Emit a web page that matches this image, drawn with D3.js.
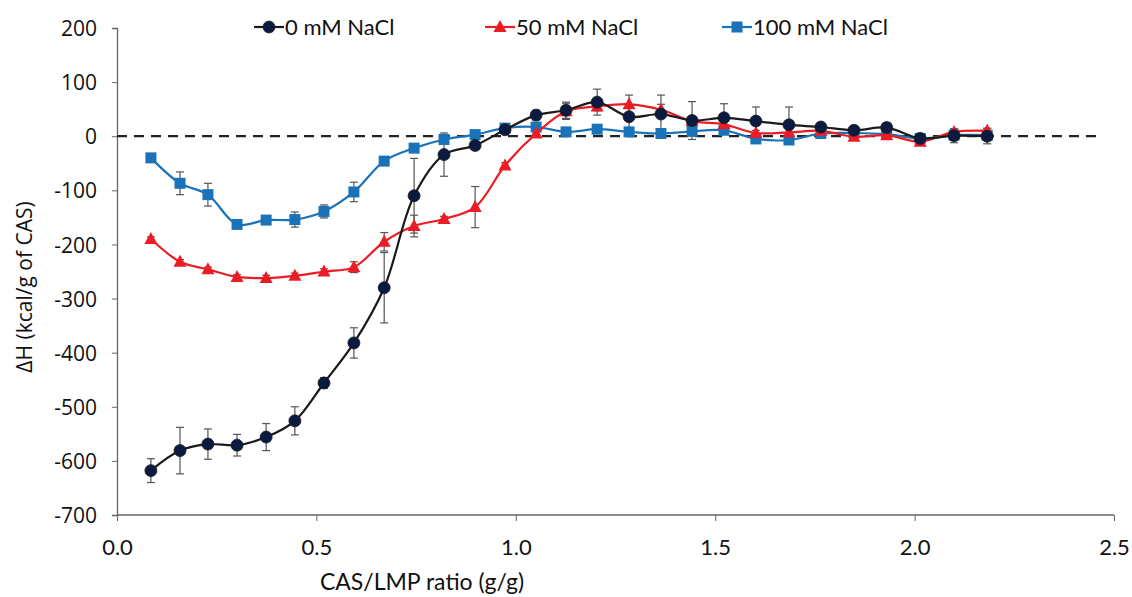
<!DOCTYPE html>
<html><head><meta charset="utf-8">
<script src="https://cdn.jsdelivr.net/npm/d3@7"></script>
<style>
body{margin:0;background:#fff;}
svg{display:block;}
.ylab{font-family:"Open Sans",sans-serif;fill:#111;}
.xlab,.title,.leg{font-family:Lato,"Open Sans",sans-serif;fill:#111;}
</style></head>
<body>
<svg id="c" width="1132" height="597"></svg>
<script>
const xVals = [0.085,0.158,0.228,0.301,0.374,0.446,0.519,0.594,0.670,0.745,0.820,0.898,0.973,1.051,1.126,1.204,1.284,1.364,1.442,1.522,1.602,1.685,1.765,1.848,1.930,2.014,2.099,2.182];
const nacl0   = [-618,-581,-569,-571,-556,-526,-456,-382,-280,-110,-34,-17,12,39,48,63,36,41,29,34,28,21,17,11,16,-4,1,0];
const err0    = [22,43,28,20,25,26,10,28,65,69,40,5,5,9,15,24,22,35,35,26,26,33,5,4,9,4,13,14];
const nacl50  = [-190,-232,-246,-260,-262,-258,-250,-242,-195,-166,-153,-131,-54,5,46,55,59,49,28,22,6,7,10,-1,2,-10,8,10];
const err50   = [4,4,4,4,5,5,5,10,17,20,5,38,5,5,15,8,17,10,5,5,5,5,4,4,4,4,5,5];
const nacl100 = [-40,-87,-108,-163,-155,-154,-139,-103,-46,-22,-6,3,15,17,8,13,8,5,9,11,-5,-7,5,6,4,-4,2,2];
const err100  = [3,21,21,3,4,14,12,18,6,4,8,4,4,4,4,4,4,4,4,5,4,4,4,4,4,4,5,5];
const seriesNames = ["0 mM NaCl","50 mM NaCl","100 mM NaCl"];
const xTicks = [0,0.5,1,1.5,2,2.5];
const yTicks = [200,100,0,-100,-200,-300,-400,-500,-600,-700];

const svg = d3.select("#c");
const x = d3.scaleLinear().domain([0,2.5]).range([117,1114]);
const y = d3.scaleLinear().domain([-700,200]).range([515,28]);

// axes
const gy = svg.append("g").attr("transform","translate(117,0)")
  .call(d3.axisLeft(y).tickValues(yTicks).tickSize(5).tickFormat(d => String(d)));
gy.select(".domain").attr("stroke","#666").attr("stroke-width",1.3);
gy.selectAll(".tick line").attr("stroke","#666");
gy.selectAll(".tick text").attr("class","ylab").attr("x",-20).attr("dy","0.36em").style("font-size","21px");

const gx = svg.append("g").attr("transform","translate(0,515)")
  .call(d3.axisBottom(x).tickValues(xTicks).tickSize(6).tickFormat(d3.format(".1f")));
gx.select(".domain").attr("stroke","#666").attr("stroke-width",1.3).attr("d","M117,0H1114");
gx.selectAll(".tick line").attr("stroke","#666");
gx.selectAll(".tick text").attr("class","xlab").attr("y",24).attr("dy","0.71em").style("font-size","22px");

// zero dashed line
svg.append("line").attr("x1",x(0)).attr("x2",x(2.46)).attr("y1",y(0)).attr("y2",y(0))
  .attr("stroke","#222").attr("stroke-width",2.2).attr("stroke-dasharray","10,7");

// titles
svg.append("text").attr("class","title").attr("x",422).attr("y",590).attr("text-anchor","middle")
  .style("font-size","23px").text("CAS/LMP ratio (g/g)");
svg.append("text").attr("class","ylab").attr("transform","translate(32,287) rotate(-90)")
  .attr("text-anchor","middle").style("font-size","21px").text("ΔH (kcal/g of CAS)");

const series = [
  {vals:nacl0, err:err0, line:"#1a1a1a", fill:"#0a1a40", shape:"circle"},
  {vals:nacl50, err:err50, line:"#ec1c24", fill:"#ec1c24", shape:"triangle"},
  {vals:nacl100, err:err100, line:"#1a73b9", fill:"#1a73b9", shape:"square"}
];

function marker(g, shape, cx, cy, fill){
  if(shape==="circle"){
    g.append("circle").attr("cx",cx).attr("cy",cy).attr("r",6).attr("fill",fill).attr("stroke","#1a1a1a").attr("stroke-width",0.8);
  } else if(shape==="triangle"){
    g.append("path").attr("d",`M${cx},${cy-7}L${cx+6.5},${cy+5}L${cx-6.5},${cy+5}Z`).attr("fill",fill);
  } else {
    g.append("rect").attr("x",cx-5.5).attr("y",cy-5.5).attr("width",11).attr("height",11).attr("fill",fill);
  }
}

const line = d3.line().curve(d3.curveCatmullRom.alpha(0.5));

// error bars first
series.forEach(s=>{
  const g = svg.append("g");
  xVals.forEach((xv,i)=>{
    const cx = x(xv), yt = y(s.vals[i]+s.err[i]), yb = y(s.vals[i]-s.err[i]);
    g.append("line").attr("x1",cx).attr("x2",cx).attr("y1",yt).attr("y2",yb).attr("stroke","#555").attr("stroke-width",1.2);
    g.append("line").attr("x1",cx-4).attr("x2",cx+4).attr("y1",yt).attr("y2",yt).attr("stroke","#555").attr("stroke-width",1.2);
    g.append("line").attr("x1",cx-4).attr("x2",cx+4).attr("y1",yb).attr("y2",yb).attr("stroke","#555").attr("stroke-width",1.2);
  });
});

// lines and markers
[2,1,0].forEach(k=>{
  const s = series[k];
  const pts = xVals.map((xv,i)=>[x(xv), y(s.vals[i])]);
  svg.append("path").attr("d",line(pts)).attr("fill","none").attr("stroke",s.line).attr("stroke-width",2.2);
  const g = svg.append("g");
  pts.forEach(p=>marker(g,s.shape,p[0],p[1],s.fill));
});

// legend
const legX = [254,485,722];
series.forEach((s,k)=>{
  const lx = legX[k], ly = 27;
  svg.append("line").attr("x1",lx).attr("x2",lx+30).attr("y1",ly).attr("y2",ly).attr("stroke",s.line).attr("stroke-width",2.2);
  marker(svg,s.shape,lx+15,ly,s.fill);
  svg.append("text").attr("class","leg").attr("x",lx+31).attr("y",ly).attr("dy","0.36em").style("font-size","22px").text(seriesNames[k]);
});
</script>
</body></html>
